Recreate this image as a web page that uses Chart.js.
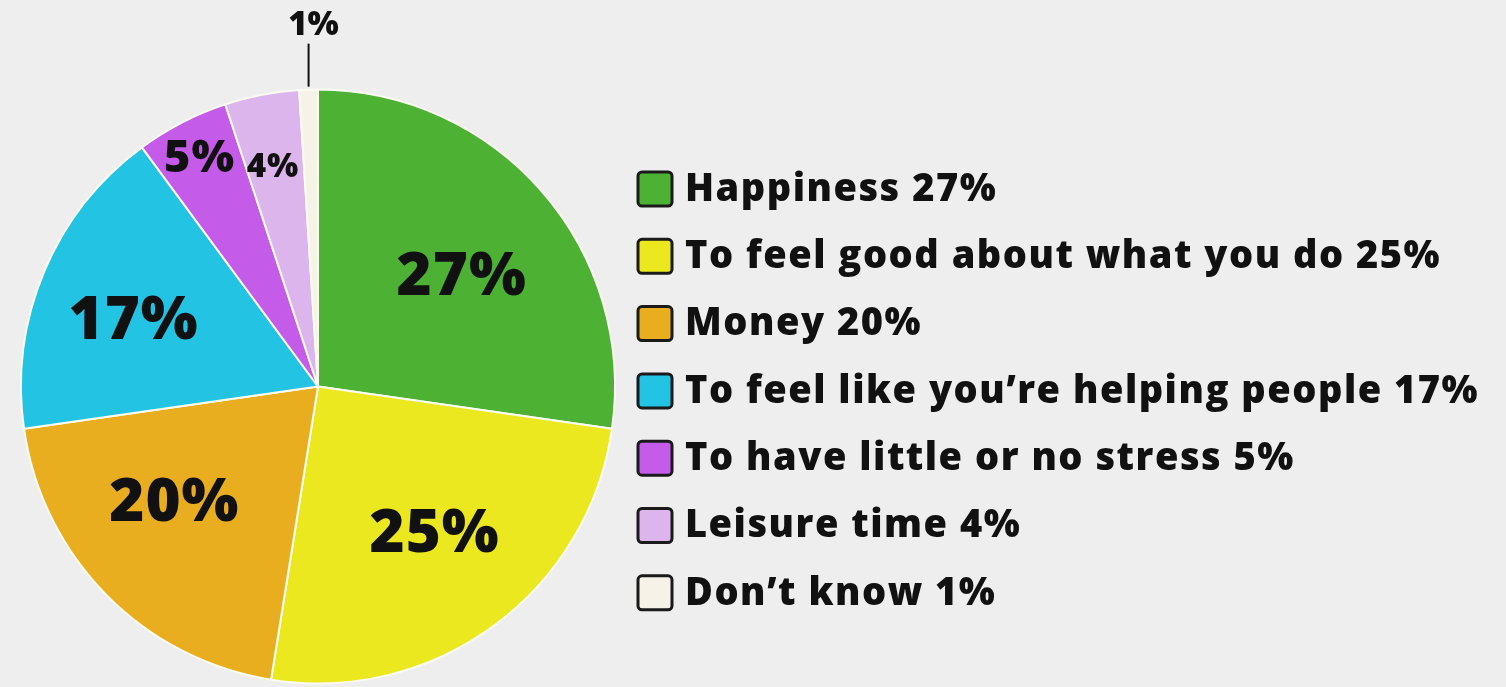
<!DOCTYPE html>
<html>
<head>
<meta charset="utf-8">
<script src="https://cdn.jsdelivr.net/npm/chart.js@4/dist/chart.umd.min.js"></script>
<style>
  html, body { margin: 0; padding: 0; background: #eeeeee; }
  #wrap { position: relative; width: 1506px; height: 687px; }
</style>
</head>
<body>
<div id="wrap"><canvas id="pie" width="1506" height="687"></canvas></div>
<script>
// === data ===
const labels = [
  "Happiness",
  "To feel good about what you do",
  "Money",
  "To feel like you\u2019re helping people",
  "To have little or no stress",
  "Leisure time",
  "Don\u2019t know"
];
const values = [27, 25, 20, 17, 5, 4, 1];
const colors = ["#4db234", "#ece81f", "#e8ae1f", "#23c3e3", "#c45ce9", "#dcb5ec", "#f6f2e8"];

// label placement inside the slices (fraction of radius, angle nudge in degrees, font size)
const labelRadius = [0.61, 0.63, 0.62, 0.66, 0.87, 0.76];
const labelNudge = [3.4, -2.2, 5.8, -2.9, 0, -0.6];
const labelSize = [60, 60, 60, 60, 45, 33];

const FONT = "'Open Sans', 'DejaVu Sans', sans-serif";

// === slice labels ===
const sliceLabels = {
  id: "sliceLabels",
  afterDatasetsDraw(chart) {
    const ctx = chart.ctx;
    const arcs = chart.getDatasetMeta(0).data;
    ctx.save();
    ctx.fillStyle = "#111";
    ctx.textAlign = "center";
    ctx.textBaseline = "middle";
    arcs.forEach((arc, i) => {
      const mid = (arc.startAngle + arc.endAngle) / 2;
      const txt = values[i] + "%";
      if (i < labelRadius.length) {
        const a = mid + labelNudge[i] * Math.PI / 180;
        const r = arc.outerRadius * labelRadius[i];
        ctx.font = `800 ${labelSize[i]}px ${FONT}`;
        ctx.letterSpacing = "1px";
        ctx.fillText(txt, arc.x + Math.cos(a) * r, arc.y + Math.sin(a) * r + 2);
      } else {
        // small slice: leader line + label above the pie
        const x = arc.x + Math.cos(mid) * arc.outerRadius;
        const y = arc.y + Math.sin(mid) * arc.outerRadius;
        ctx.strokeStyle = "#111";
        ctx.lineWidth = 2;
        ctx.beginPath();
        ctx.moveTo(x, y - 3);
        ctx.lineTo(x, y - 46);
        ctx.stroke();
        ctx.font = `800 33px ${FONT}`;
        ctx.letterSpacing = "0px";
        ctx.fillText(txt, x + 5, y - 64);
      }
    });
    ctx.restore();
  }
};

// === legend on the right ===
const sideLegend = {
  id: "sideLegend",
  afterDraw(chart) {
    const ctx = chart.ctx;
    ctx.save();
    ctx.textBaseline = "middle";
    ctx.textAlign = "left";
    ctx.font = `800 38px ${FONT}`;
    ctx.letterSpacing = "1.5px";
    labels.forEach((l, i) => {
      const y = 189 + i * 67.3;
      ctx.fillStyle = colors[i];
      ctx.strokeStyle = "#1a1a1a";
      ctx.lineWidth = 3;
      ctx.beginPath();
      ctx.roundRect(638, y - 17, 34, 34, 4);
      ctx.fill();
      ctx.stroke();
      ctx.fillStyle = "#111";
      ctx.fillText(`${l} ${values[i]}%`, 685, y + 1);
    });
    ctx.restore();
  }
};

new Chart(document.getElementById("pie"), {
  type: "pie",
  data: {
    labels: labels,
    datasets: [{
      data: values,
      backgroundColor: colors,
      borderColor: "#fbfbf0",
      borderWidth: 2
    }]
  },
  options: {
    responsive: false,
    animation: false,
    devicePixelRatio: 1,
    layout: { padding: { left: 20, top: 88, right: 890, bottom: 2 } },
    plugins: {
      legend: { display: false },
      tooltip: { enabled: false }
    }
  },
  plugins: [sliceLabels, sideLegend]
});
</script>
</body>
</html>
